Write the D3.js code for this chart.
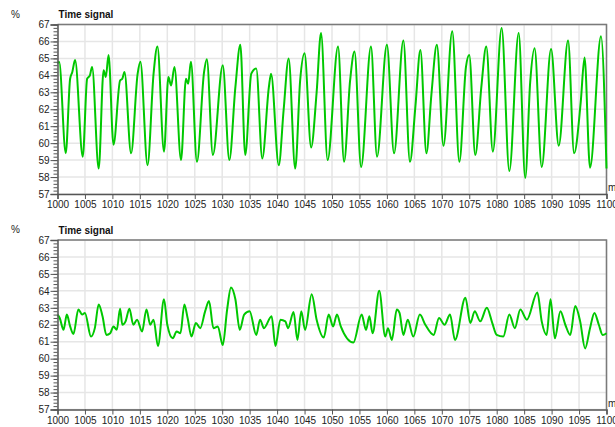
<!DOCTYPE html>
<html>
<head>
<meta charset="utf-8">
<script src="https://cdn.jsdelivr.net/npm/d3@7"></script>
<style>
    body { margin: 0; background: #fff; }
    text { font-family: "Liberation Sans", Arial, sans-serif; }
</style>
</head>
<body>
<svg id="chart" width="615" height="427"></svg>
<script>
// upper panel: time (ms) and value (%) at the peaks, troughs and shoulders
const topT = [
    1000.0, 1000.3, 1001.5, 1002.3, 1002.7, 1003.2, 1004.6, 1005.4, 1005.9, 1006.3,
    1007.5, 1008.4, 1008.8, 1009.3, 1010.2, 1011.4, 1011.8, 1012.2, 1013.4, 1014.6,
    1015.1, 1016.4, 1017.5, 1018.2, 1019.4, 1020.2, 1020.7, 1021.3, 1022.5, 1023.4,
    1023.8, 1024.3, 1025.4, 1026.7, 1027.2, 1028.3, 1030.1, 1031.3, 1032.4, 1033.3,
    1034.2, 1035.3, 1036.2, 1037.3, 1038.5, 1038.9, 1040.3, 1041.2, 1042.1, 1043.3,
    1044.2, 1045.0, 1046.2, 1047.2, 1048.0, 1049.2, 1051.1, 1052.2, 1053.3, 1054.1,
    1055.3, 1057.1, 1058.2, 1060.0, 1061.3, 1063.0, 1064.2, 1065.2, 1066.1, 1067.2,
    1068.1, 1069.1, 1070.3, 1071.9, 1073.2, 1074.4, 1075.0, 1076.1, 1077.2, 1078.1,
    1079.3, 1080.9, 1082.3, 1084.0, 1085.2, 1086.1, 1086.9, 1088.2, 1089.9, 1091.3,
    1093.0, 1094.1, 1095.3, 1096.0, 1097.0, 1099.0, 1100.0
];
const topV = [
    64.7, 64.8, 59.4, 63.8, 64.2, 64.9, 59.2, 63.8, 64.0, 64.5,
    58.5, 64.3, 63.9, 65.2, 59.9, 63.7, 63.8, 64.2, 59.4, 64.1,
    64.8, 58.7, 64.1, 65.7, 59.5, 63.9, 63.4, 64.5, 59.0, 63.8,
    63.5, 64.8, 58.9, 64.2, 64.95, 59.3, 64.6, 59.0, 63.3, 65.8,
    59.3, 64.1, 64.4, 59.1, 63.3, 64.1, 58.7, 62.0, 65.0, 58.5,
    63.7, 65.3, 59.75, 63.0, 66.5, 59.0, 65.7, 58.9, 63.7, 65.4,
    58.6, 65.7, 59.2, 65.8, 59.4, 66.05, 58.9, 62.2, 65.5, 59.4,
    62.85, 65.8, 59.85, 66.6, 58.9, 64.5, 65.2, 59.3, 63.3, 65.7,
    59.5, 66.8, 58.35, 66.5, 57.95, 63.6, 65.6, 58.6, 65.55, 59.85,
    66.05, 59.4, 62.4, 65.05, 58.55, 66.3, 58.5
];

// lower panel
const botT = [
    1000.0, 1000.4, 1001.1, 1001.7, 1002.3, 1002.9, 1003.8, 1004.5, 1005.0, 1006.1,
    1006.8, 1007.5, 1008.2, 1008.9, 1009.6, 1010.2, 1010.8, 1011.4, 1011.8, 1012.4,
    1013.1, 1013.8, 1014.5, 1015.4, 1016.2, 1016.9, 1017.5, 1018.3, 1019.4, 1020.0,
    1021.0, 1021.7, 1022.4, 1023.1, 1023.7, 1024.4, 1025.2, 1026.0, 1026.9, 1027.6,
    1028.4, 1029.2, 1030.1, 1030.9, 1031.6, 1032.4, 1033.2, 1034.0, 1035.0, 1036.2,
    1036.9, 1037.6, 1039.0, 1039.7, 1040.6, 1041.5, 1042.0, 1043.0, 1043.7, 1044.4,
    1045.1, 1046.3, 1047.2, 1048.5, 1049.4, 1050.2, 1050.9, 1051.6, 1053.9, 1055.4,
    1056.2, 1056.8, 1057.4, 1058.6, 1059.7, 1060.2, 1060.9, 1061.8, 1062.3, 1063.0,
    1063.8, 1064.8, 1066.0, 1067.0, 1068.5, 1069.5, 1070.5, 1071.5, 1072.4, 1074.3,
    1075.2, 1076.0, 1077.0, 1078.2, 1079.2, 1080.0, 1081.2, 1082.3, 1083.3, 1084.3,
    1085.5, 1087.4, 1088.2, 1089.1, 1089.8, 1090.6, 1091.6, 1092.5, 1093.4, 1094.3,
    1095.2, 1096.1, 1097.0, 1097.8, 1098.6, 1099.3, 1100.0
];
const botV = [
    62.6, 62.4, 61.7, 62.6, 61.9, 61.45, 62.9, 62.6, 62.7, 61.3,
    61.8, 63.2, 62.5, 61.4, 61.5, 61.9, 61.7, 62.95, 62.0, 62.2,
    62.95, 62.0, 62.3, 61.6, 62.9, 62.0, 62.3, 60.75, 63.5, 62.0,
    61.2, 61.6, 61.5, 63.2, 62.4, 61.3, 62.1, 61.8, 62.8, 63.4,
    61.8, 61.9, 60.8, 62.9, 64.2, 63.5, 61.7, 62.6, 62.8, 61.4,
    62.3, 61.8, 62.5, 60.75, 62.3, 62.2, 61.8, 62.75, 61.1, 62.8,
    61.7, 63.8, 62.3, 61.25, 62.6, 61.9, 62.6, 61.9, 60.95, 62.6,
    61.7, 62.5, 61.5, 64.0, 61.3, 61.8, 61.1, 62.9, 62.7, 61.4,
    62.3, 61.3, 62.6, 62.0, 61.4, 62.4, 62.0, 62.6, 61.1, 63.6,
    62.1, 62.8, 62.2, 63.0, 62.1, 61.4, 61.3, 62.6, 61.8, 62.9,
    62.3, 63.9, 62.2, 61.4, 63.5, 61.2, 62.8, 62.0, 61.4, 63.1,
    62.2, 60.6, 61.8, 62.7, 62.0, 61.4, 61.5
];

const xTicks = d3.range(1000, 1101, 5);
const yTicks = d3.range(57, 68, 1);
const yMinor = d3.range(57, 67.01, 0.2);

const left = 57.5,
    right = 606.5,
    plotH = 169.5;

const svg = d3.select("#chart");

const x = d3.scaleLinear().domain([1000, 1100]).range([left, right]);

function drawPanel(top, ts, vs) {
    const y = d3.scaleLinear().domain([57, 67]).range([top + plotH, top]);
    const g = svg.append("g");

    // grid
    g.selectAll(".hgrid")
        .data(yTicks)
        .join("line")
        .attr("x1", left)
        .attr("x2", right)
        .attr("y1", d => y(d))
        .attr("y2", d => y(d))
        .attr("stroke", "#e6e6e6")
        .attr("stroke-width", 1.5);
    g.selectAll(".vgrid")
        .data(xTicks)
        .join("line")
        .attr("x1", d => x(d))
        .attr("x2", d => x(d))
        .attr("y1", top)
        .attr("y2", top + plotH)
        .attr("stroke", "#e6e6e6")
        .attr("stroke-width", 1.5);

    // frame top/right
    g.append("path")
        .attr("d", `M${left},${top}H${right}V${top + plotH}`)
        .attr("fill", "none")
        .attr("stroke", "#7a7a7a")
        .attr("stroke-width", 1.5);

    // the signal
    const pts = ts.map((t, i) => [t, vs[i]]);
    g.append("path")
        .datum(pts)
        .attr("fill", "none")
        .attr("stroke", "#00c800")
        .attr("stroke-width", 2)
        .attr("stroke-linejoin", "round")
        .attr("d", d3.line().x(d => x(d[0])).y(d => y(d[1])).curve(d3.curveMonotoneX));

    // axes
    g.append("g")
        .attr("transform", `translate(${left},0)`)
        .call(d3.axisLeft(y).tickValues(yMinor).tickSize(4).tickFormat(""))
        .call(a => a.select(".domain").remove())
        .call(a => a.selectAll("line").attr("stroke", "#555"));
    const ya = g.append("g")
        .attr("transform", `translate(${left},0)`)
        .call(d3.axisLeft(y).tickValues(yTicks).tickSize(7).tickPadding(1).tickFormat(d3.format("d")));
    ya.select(".domain").attr("stroke", "#555").attr("stroke-width", 1.5);
    ya.selectAll("line").attr("stroke", "#555");
    ya.selectAll("text").attr("fill", "#222").style("font-size", "10px");

    const xa = g.append("g")
        .attr("transform", `translate(0,${top + plotH})`)
        .call(d3.axisBottom(x).tickValues(xTicks).tickSize(5).tickPadding(2).tickFormat(d3.format("d")));
    xa.select(".domain").attr("stroke", "#555").attr("stroke-width", 1.5);
    xa.selectAll("line").attr("stroke", "#555");
    xa.selectAll("text").attr("fill", "#222").style("font-size", "10px");

    // labels
    g.append("text").attr("x", 11).attr("y", top - 7).text("%")
        .attr("fill", "#222").style("font-size", "10px");
    g.append("text").attr("x", left + 1).attr("y", top - 6.5).text("Time signal")
        .attr("fill", "#111").style("font-size", "10px").style("font-weight", "bold");
    g.append("text").attr("x", 608).attr("y", top + plotH - 3).text("ms")
        .attr("fill", "#222").style("font-size", "10px");
}

drawPanel(24.5, topT, topV);
drawPanel(240, botT, botV);
</script>
</body>
</html>
